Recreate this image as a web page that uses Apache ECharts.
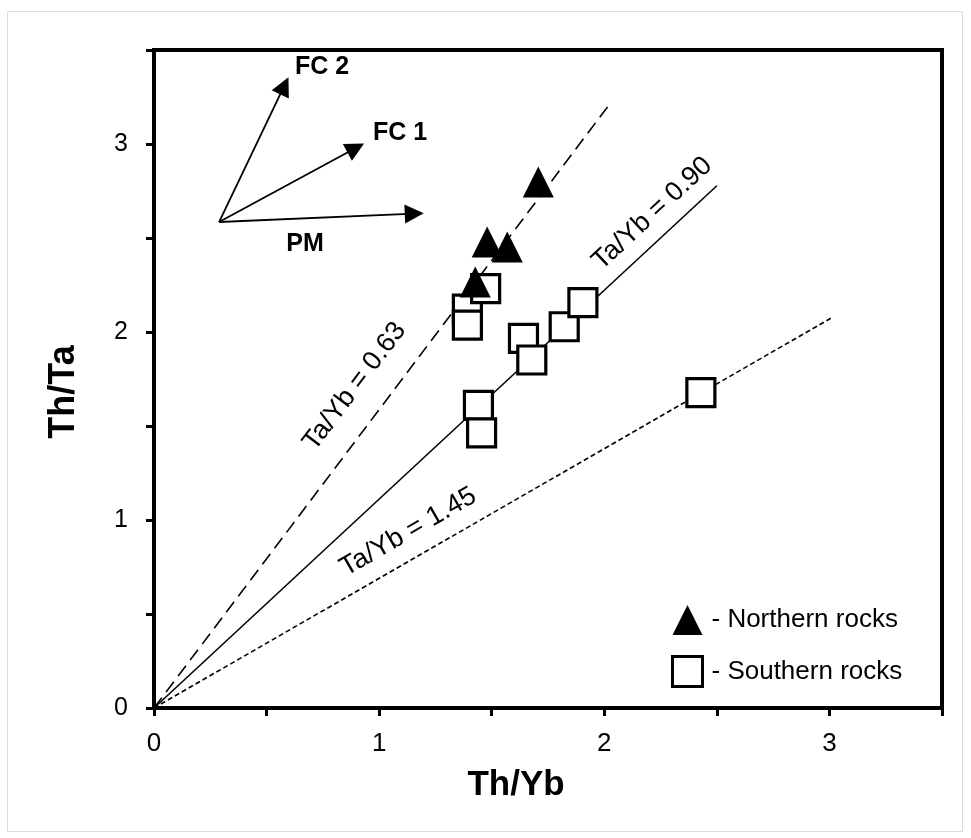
<!DOCTYPE html>
<html>
<head>
<meta charset="utf-8">
<script src="https://cdn.jsdelivr.net/npm/echarts@6/dist/echarts.min.js"></script>
<style>
html,body{margin:0;padding:0;background:#fff;}
#c{width:971px;height:838px;}
</style>
</head>
<body>
<div id="c"></div>
<script>
// ---------- data ----------
const xTickLabels = ['0', '1', '2', '3'];
const yTickLabels = ['0', '1', '2', '3'];

const seriesNames = ['Northern rocks', 'Southern rocks'];

// Th/Yb, Th/Ta
const northernRocks = [
  [1.707, 2.798],
  [1.480, 2.479],
  [1.569, 2.452],
  [1.427, 2.266]
];

const southernRocks = [
  [1.392, 2.122],
  [1.392, 2.037],
  [1.473, 2.231],
  [1.641, 1.966],
  [1.678, 1.851],
  [1.822, 2.028],
  [1.905, 2.156],
  [1.441, 1.610],
  [1.455, 1.463],
  [2.429, 1.678]
];

// reference lines through the origin (Ta/Yb ratios)
const ratioLabels = ['Ta/Yb = 0.63', 'Ta/Yb = 0.90', 'Ta/Yb = 1.45'];
const ratioLineStart = [0, 0];
const ratioLineEnds = [
  [2.02, 3.206],
  [2.50, 2.778],
  [3.01, 2.076]
];

// trend arrows
const arrowLabels = ['PM', 'FC 1', 'FC 2'];
const arrowOrigin = [0.289, 2.585];
const arrowEnds = [
  [1.156, 2.630],
  [0.896, 2.979],
  [0.579, 3.310]
];
const arrowLabelPoints = [
  [0.671, 2.468],
  [1.093, 3.059],
  [0.747, 3.410]
];

// ---------- styling ----------
const FONT = "'Liberation Sans', Arial, Helvetica, sans-serif";
const ratioLineTypes = [[13, 7], 'solid', [5, 3]];
const ratioLabelLayout = [
  { position: 'insideMiddleTop', distance: [0, 20] },
  { position: 'insideEndTop', distance: [-10, 10] },
  { position: 'insideStartTop', distance: [232, 12] }
];

function isWhole(v) { return Math.abs(v - Math.round(v)) < 1e-6; }
function tickFormatter(labels) {
  return function (v) {
    if (!isWhole(v)) return '';
    const i = Math.round(v);
    return labels[i] !== undefined ? labels[i] : '';
  };
}

const ratioMarkData = ratioLineEnds.map(function (end, i) {
  return [
    {
      name: ratioLabels[i],
      coord: ratioLineStart,
      lineStyle: { type: ratioLineTypes[i] },
      label: {
        show: true,
        formatter: '{b}',
        position: ratioLabelLayout[i].position,
        distance: ratioLabelLayout[i].distance
      }
    },
    { coord: end }
  ];
});

const arrowMarkData = arrowEnds.map(function (end, i) {
  return [
    { name: arrowLabels[i], coord: arrowOrigin },
    { coord: end }
  ];
});

const chart = echarts.init(document.getElementById('c'), null, { renderer: 'canvas' });

const option = {
  animation: false,
  backgroundColor: '#ffffff',
  textStyle: { fontFamily: FONT, color: '#000' },
  graphic: [
    {
      type: 'rect',
      silent: true,
      z: -10,
      shape: { x: 7.5, y: 11.5, width: 955, height: 820 },
      style: { fill: 'none', stroke: '#dcdcdc', lineWidth: 1 }
    }
  ],
  grid: {
    left: 154, right: 29, top: 50, bottom: 130,
    show: true,
    borderColor: '#000',
    borderWidth: 4,
    containLabel: false,
    outerBoundsMode: 'none'
  },
  legend: {
    orient: 'vertical',
    left: 666,
    top: 600,
    itemWidth: 30,
    itemHeight: 30,
    itemGap: 20,
    selectedMode: false,
    formatter: '- {name}',
    textStyle: { fontFamily: FONT, fontSize: 26, color: '#000', padding: [0, 0, 0, 4] },
    data: [
      { name: seriesNames[0], icon: 'triangle', itemStyle: { color: '#000', borderWidth: 0 } },
      { name: seriesNames[1], icon: 'rect', itemStyle: { color: '#fff', borderColor: '#000', borderWidth: 3 } }
    ]
  },
  xAxis: {
    type: 'value',
    min: 0, max: 3.5, interval: 0.5,
    name: 'Th/Yb',
    nameLocation: 'middle',
    nameGap: 60,
    nameTextStyle: { fontFamily: FONT, fontSize: 35, fontWeight: 'bold', color: '#000', padding: [0, 64, 0, 0] },
    axisLine: { show: true, onZero: false, lineStyle: { color: '#000', width: 4 } },
    axisTick: { show: true, inside: false, length: 8, lineStyle: { color: '#000', width: 3 } },
    axisLabel: { show: true, margin: 23, fontFamily: FONT, fontSize: 26, color: '#000', formatter: tickFormatter(xTickLabels), showMaxLabel: true, showMinLabel: true },
    splitLine: { show: false }
  },
  yAxis: {
    type: 'value',
    min: 0, max: 3.5, interval: 0.5,
    name: 'Th/Ta',
    nameLocation: 'middle',
    nameRotate: 90,
    nameGap: 72,
    nameTextStyle: { fontFamily: FONT, fontSize: 36, fontWeight: 'bold', color: '#000', padding: [0, 26, 0, 0] },
    axisLine: { show: true, onZero: false, lineStyle: { color: '#000', width: 4 } },
    axisTick: { show: true, inside: false, length: 8, lineStyle: { color: '#000', width: 3 } },
    axisLabel: { show: true, margin: 26, fontFamily: FONT, fontSize: 25, color: '#000', formatter: tickFormatter(yTickLabels), showMaxLabel: true, showMinLabel: true },
    splitLine: { show: false }
  },
  series: [
    {
      name: 'ratioLines',
      type: 'scatter',
      data: [],
      silent: true,
      markLine: {
        silent: true,
        z: 1,
        animation: false,
        symbol: ['none', 'none'],
        precision: 4,
        lineStyle: { color: '#000', width: 1.6, opacity: 1 },
        label: { color: '#000', fontFamily: FONT, fontSize: 27 },
        emphasis: { disabled: true },
        data: ratioMarkData
      }
    },
    {
      name: 'arrows',
      type: 'scatter',
      data: [],
      silent: true,
      markLine: {
        silent: true,
        z: 1,
        animation: false,
        symbol: ['none', 'triangle'],
        symbolSize: 19,
        lineStyle: { color: '#000', width: 1.8, type: 'solid', opacity: 1 },
        itemStyle: { color: '#000' },
        label: { show: false },
        emphasis: { disabled: true },
        data: arrowMarkData
      }
    },
    {
      name: 'arrowLabels',
      type: 'scatter',
      silent: true,
      symbolSize: 0,
      itemStyle: { opacity: 1, color: '#000' },
      data: arrowLabelPoints.map(function (p, i) { return { name: arrowLabels[i], value: p }; }),
      label: {
        show: true,
        position: 'inside',
        formatter: '{b}',
        fontFamily: FONT,
        fontSize: 25,
        fontWeight: 'bold',
        color: '#000',
        opacity: 1,
        textBorderWidth: 0
      }
    },
    {
      name: seriesNames[1],
      type: 'scatter',
      symbol: 'rect',
      symbolSize: 28,
      z: 3,
      itemStyle: { color: '#fff', borderColor: '#000', borderWidth: 3.2, opacity: 1 },
      emphasis: { disabled: true },
      data: southernRocks
    },
    {
      name: seriesNames[0],
      type: 'scatter',
      symbol: 'triangle',
      symbolSize: 31,
      z: 4,
      itemStyle: { color: '#000', opacity: 1 },
      emphasis: { disabled: true },
      data: northernRocks
    }
  ]
};

chart.setOption(option);
</script>
</body>
</html>
